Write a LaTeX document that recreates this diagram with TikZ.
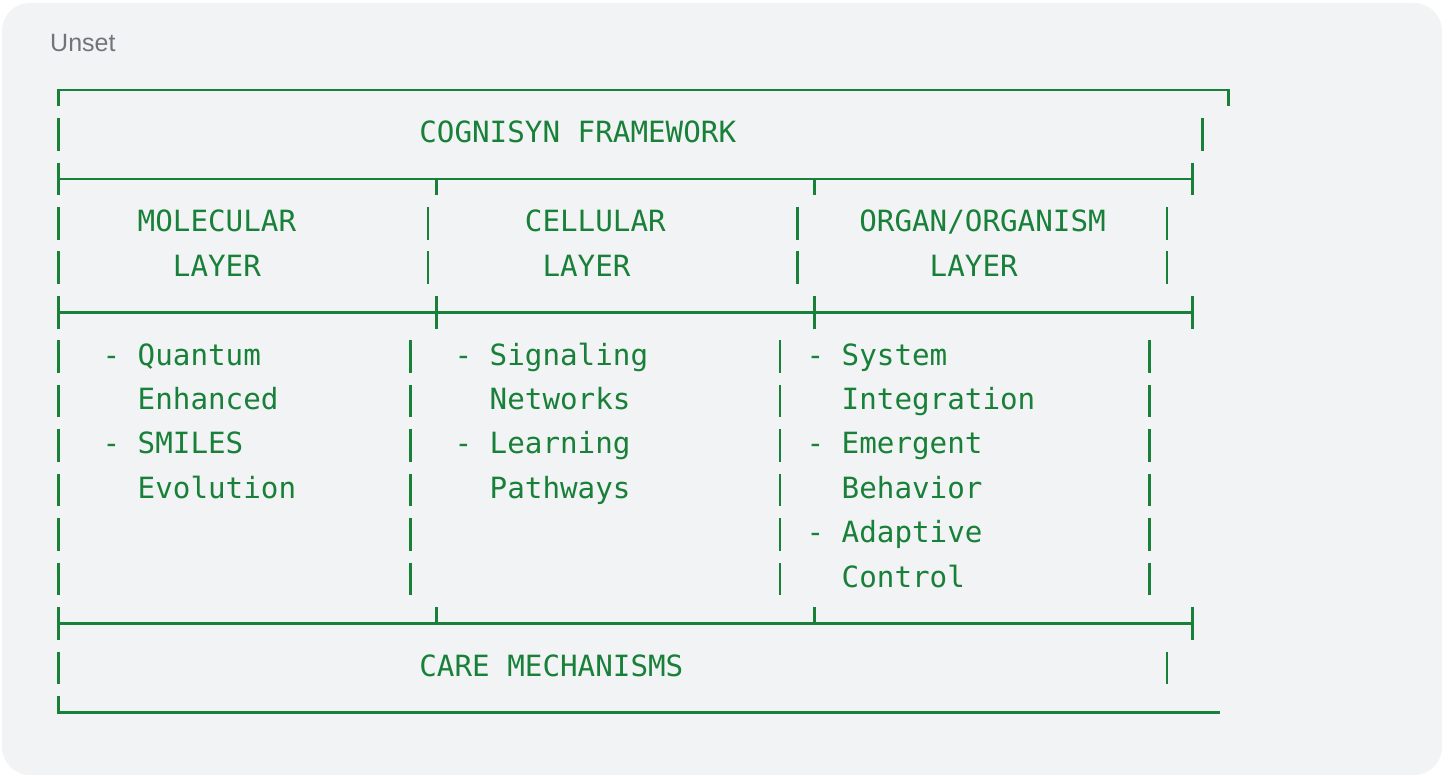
\documentclass[tikz,border=0pt]{standalone}
\usepackage{fontspec}
\setmonofont{DejaVu Sans Mono}
\newfontfamily\uifont{Liberation Sans}
\definecolor{grn}{HTML}{188038}
\definecolor{bgc}{HTML}{F1F3F4}
\definecolor{lbl}{HTML}{70757A}
% text grid: cell k left edge / centre; box grid: cell k centre; row centre
\newcommand\cx[1]{49.5+17.6*#1}
\newcommand\bx[1]{58.3+17.6*#1}
\newcommand\hx[1]{58.5+18*#1}
\newcommand\ry[1]{90+44.45*#1}
\tikzset{
  ln/.style={draw=grn, line width=2.6pt, line cap=butt, line join=miter},
  txt/.style={anchor=base west, inner sep=0pt, text=grn,
    font=\ttfamily\fontsize{29.24}{35}\selectfont},
  lab/.style={anchor=base west, inner sep=0pt, text=lbl,
    font=\uifont\fontsize{25}{30}\selectfont},
}
\begin{document}
\begin{tikzpicture}[x=1pt,y=-1pt]
\useasboundingbox (0,0) rectangle (1442,775);
\fill[white] (0,0) rectangle (1442,775);
\fill[bgc, rounded corners=28pt] (2,3) rectangle (1442,775);

\node[lab] (unset) at (50,51.7) {Unset};

% ---- box-drawing horizontal rows ----
% row 0: top border
\draw[ln] ({\hx{0}},{\ry{0}+16.3}) -- ({\hx{0}},{\ry{0}}) -- ({\hx{65}},{\ry{0}}) -- ({\hx{65}},{\ry{0}+16.3});
% rows 2, 5, 12: separators
\foreach \r/\up/\dn in {2/0/16.3, 5/16.3/16.3, 12/16.3/0}{
  \draw[ln] ({\hx{0}},{\ry{\r}-16.3}) -- ({\hx{0}},{\ry{\r}+16.3});
  \draw[ln] ({\hx{0}},{\ry{\r}}) -- ({\hx{63}},{\ry{\r}});
  \draw[ln] ({\hx{63}},{\ry{\r}-16.3}) -- ({\hx{63}},{\ry{\r}+16.3});
  \draw[ln] ({\hx{21}},{\ry{\r}-\up}) -- ({\hx{21}},{\ry{\r}+\dn});
  \draw[ln] ({\hx{42}},{\ry{\r}-\up}) -- ({\hx{42}},{\ry{\r}+\dn});
}
% row 14: bottom border
\draw[ln] ({\hx{0}},{\ry{14}-16.3}) -- ({\hx{0}},{\ry{14}}) -- ({\hx{64}+9},{\ry{14}});

% ---- vertical bars in text rows ----
\foreach \r/\c in {1/0,1/65,
  3/0,3/21,3/42,3/63, 4/0,4/21,4/42,4/63,
  6/0,6/20,6/41,6/62, 7/0,7/20,7/41,7/62, 8/0,8/20,8/41,8/62,
  9/0,9/20,9/41,9/62, 10/0,10/20,10/41,10/62, 11/0,11/20,11/41,11/62,
  13/0,13/63}{
  \draw[ln] ({\bx{\c}},{\ry{\r}-16.3}) -- ({\bx{\c}},{\ry{\r}+16.3});
}

% ---- texts ----
\newcommand\T[4]{\node[txt] (#1) at ({\cx{#3}},{\ry{#2}+8.3}) {#4};}
\T{title}{1}{21}{COGNISYN FRAMEWORK}
\T{molA}{3}{5}{MOLECULAR}
\T{celA}{3}{27}{CELLULAR}
\T{orgA}{3}{46}{ORGAN/ORGANISM}
\T{molB}{4}{7}{LAYER}
\T{celB}{4}{28}{LAYER}
\T{orgB}{4}{50}{LAYER}
\T{m1}{6}{3}{- Quantum}
\T{c1}{6}{23}{- Signaling}
\T{o1}{6}{43}{- System}
\T{m2}{7}{5}{Enhanced}
\T{c2}{7}{25}{Networks}
\T{o2}{7}{45}{Integration}
\T{m3}{8}{3}{- SMILES}
\T{c3}{8}{23}{- Learning}
\T{o3}{8}{43}{- Emergent}
\T{m4}{9}{5}{Evolution}
\T{c4}{9}{25}{Pathways}
\T{o4}{9}{45}{Behavior}
\T{o5}{10}{43}{- Adaptive}
\T{o6}{11}{45}{Control}
\T{care}{13}{21}{CARE MECHANISMS}
\end{tikzpicture}
\end{document}
